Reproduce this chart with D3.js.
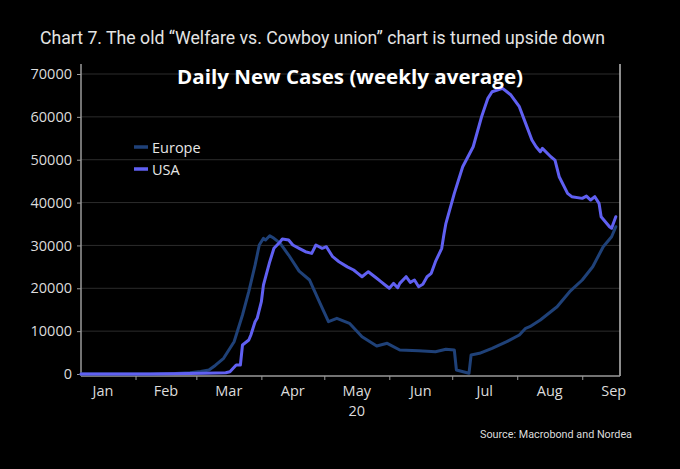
<!DOCTYPE html>
<html>
<head>
<meta charset="utf-8">
<script src="https://cdn.jsdelivr.net/npm/d3@7"></script>
<style>
  html, body { margin: 0; padding: 0; background: #000; }
  svg { display: block; }
</style>
</head>
<body>
<svg id="chart" width="680" height="469"></svg>
<script>
// ---- Data ----
const seriesNames = ["Europe", "USA"];
const monthLabels = ["Jan", "Feb", "Mar", "Apr", "May", "Jun", "Jul", "Aug", "Sep"];
const yTicks = [0, 10000, 20000, 30000, 40000, 50000, 60000, 70000];

const europeDates = ["2020-01-06","2020-02-08","2020-02-20","2020-02-27","2020-03-03","2020-03-07","2020-03-10","2020-03-14","2020-03-19","2020-03-23","2020-03-26","2020-03-29","2020-03-31","2020-04-02","2020-04-03","2020-04-05","2020-04-07","2020-04-09","2020-04-10","2020-04-14","2020-04-19","2020-04-24","2020-04-29","2020-05-03","2020-05-07","2020-05-13","2020-05-19","2020-05-26","2020-05-31","2020-06-06","2020-06-15","2020-06-23","2020-06-28","2020-07-02","2020-07-03","2020-07-09","2020-07-10","2020-07-14","2020-07-20","2020-07-27","2020-08-02","2020-08-05","2020-08-07","2020-08-12","2020-08-20","2020-08-26","2020-09-01","2020-09-06","2020-09-11","2020-09-15","2020-09-17"];
const europeValues = [0,0,100,300,600,930,2000,3660,7540,13770,19200,25400,30100,31660,31270,32270,31660,30870,30490,27760,24000,21930,16500,12200,13000,11830,8700,6530,7160,5600,5440,5200,5760,5600,930,160,4430,4830,6000,7540,9100,10660,11040,12600,15700,19200,21930,25030,29700,32030,34360];

const usaDates = ["2020-01-06","2020-02-08","2020-02-27","2020-03-05","2020-03-15","2020-03-17","2020-03-20","2020-03-22","2020-03-23","2020-03-26","2020-03-27","2020-03-29","2020-03-30","2020-04-01","2020-04-02","2020-04-05","2020-04-07","2020-04-10","2020-04-11","2020-04-14","2020-04-16","2020-04-19","2020-04-22","2020-04-25","2020-04-27","2020-04-30","2020-05-02","2020-05-05","2020-05-08","2020-05-12","2020-05-15","2020-05-17","2020-05-19","2020-05-22","2020-05-26","2020-05-28","2020-05-30","2020-06-01","2020-06-03","2020-06-05","2020-06-06","2020-06-09","2020-06-11","2020-06-13","2020-06-15","2020-06-17","2020-06-19","2020-06-21","2020-06-23","2020-06-26","2020-06-27","2020-06-28","2020-07-02","2020-07-06","2020-07-11","2020-07-15","2020-07-18","2020-07-20","2020-07-25","2020-07-29","2020-08-02","2020-08-05","2020-08-08","2020-08-10","2020-08-12","2020-08-13","2020-08-17","2020-08-19","2020-08-21","2020-08-25","2020-08-27","2020-09-01","2020-09-03","2020-09-05","2020-09-07","2020-09-09","2020-09-10","2020-09-14","2020-09-15","2020-09-17"];
const usaValues = [0,0,100,200,300,540,2100,2100,6770,7930,9100,12200,13000,16870,20770,26200,29330,30870,31500,31270,30100,29330,28540,28150,30100,29330,29700,27370,26200,25000,24270,23490,22700,23870,22330,21540,20770,20000,21150,20130,21150,22700,21390,21930,20370,20930,22700,23490,26200,29330,32430,35160,42150,48370,53030,60030,64320,65870,66650,65090,62370,58480,54590,53030,51860,52640,50690,49920,46030,42150,41370,40980,41500,40590,41370,39820,36700,34360,34000,36700];

const titleText = "Chart 7. The old \u201cWelfare vs. Cowboy union\u201d chart is turned upside down";
const innerTitle = "Daily New Cases (weekly average)";
const sourceText = "Source: Macrobond and Nordea";

// ---- Layout ----
const svg = d3.select("#chart");
const plot = { left: 81, right: 620, top: 64, bottom: 374 };
const parse = d3.timeParse("%Y-%m-%d");
const colors = { Europe: "#1f4178", USA: "#6060f2" };

const x = d3.scaleTime()
  .domain([parse("2020-01-06"), parse("2020-09-19")])
  .range([plot.left, plot.right]);
const y = d3.scaleLinear().domain([0, 70000]).range([374, 74]);

svg.append("rect").attr("width", 680).attr("height", 469).attr("fill", "#000");

// gridlines
svg.append("g").selectAll("line").data(yTicks.filter(d => d > 0)).join("line")
  .attr("x1", plot.left).attr("x2", plot.right)
  .attr("y1", d => y(d)).attr("y2", d => y(d))
  .attr("stroke", "#2c2c2c").attr("stroke-width", 1);

// y axis
const yAxis = svg.append("g").attr("transform", `translate(${plot.left},0)`)
  .call(d3.axisLeft(y).tickValues(yTicks).tickFormat(d3.format("d")).tickSize(4).tickPadding(5));
yAxis.select(".domain").attr("d", `M0,${plot.top}V${plot.bottom + 2}`).attr("stroke", "#9a9a9a").attr("stroke-width", 1.5);
yAxis.selectAll(".tick line").attr("stroke", "#9a9a9a");
yAxis.selectAll(".tick text").attr("fill", "#dcdcdc").style("font-family", "'Open Sans', 'Noto Sans', sans-serif").style("font-size", "14.5px");

// right frame line
svg.append("line").attr("x1", plot.right).attr("x2", plot.right).attr("y1", plot.top).attr("y2", plot.bottom + 2)
  .attr("stroke", "#bdbdbd").attr("stroke-width", 1.5);

// x axis: month boundary ticks, labels centred in month
const monthStarts = d3.range(1, 10).map(m => new Date(2020, m - 1, 1));
const xAxis = svg.append("g").attr("transform", `translate(0,${plot.bottom + 2})`)
  .call(d3.axisBottom(x).tickValues(monthStarts.slice(1)).tickFormat("").tickSize(4));
xAxis.select(".domain").attr("d", `M${plot.left},0H${plot.right}`).attr("stroke", "#9a9a9a").attr("stroke-width", 1.5);
xAxis.selectAll(".tick line").attr("stroke", "#9a9a9a");

const monthMid = monthLabels.map((m, i) => {
  const s = new Date(2020, i, 1), e = new Date(2020, i + 1, 1);
  return { label: m, date: new Date((+s + +e) / 2) };
});
const xScaleFull = d3.scaleTime().domain(x.domain()).range(x.range());
svg.append("g").selectAll("text").data(monthMid).join("text")
  .attr("x", d => xScaleFull(d.date)).attr("y", 396)
  .attr("text-anchor", "middle").attr("fill", "#dcdcdc")
  .style("font-family", "'Open Sans', 'Noto Sans', sans-serif").style("font-size", "14.5px")
  .text(d => d.label);
svg.append("text").attr("x", xScaleFull(monthMid[4].date)).attr("y", 416)
  .attr("text-anchor", "middle").attr("fill", "#dcdcdc")
  .style("font-family", "'Open Sans', 'Noto Sans', sans-serif").style("font-size", "14.5px")
  .text("20");

// lines
const line = d3.line().x(d => x(d.date)).y(d => y(d.value));
const series = [
  { name: "Europe", data: europeDates.map((d, i) => ({ date: parse(d), value: europeValues[i] })) },
  { name: "USA", data: usaDates.map((d, i) => ({ date: parse(d), value: usaValues[i] })) }
];
svg.append("g").selectAll("path").data(series).join("path")
  .attr("d", d => line(d.data)).attr("fill", "none")
  .attr("stroke", d => colors[d.name]).attr("stroke-width", 3)
  .attr("stroke-linejoin", "round").attr("stroke-linecap", "round");

// legend
const leg = svg.append("g").selectAll("g").data(seriesNames).join("g")
  .attr("transform", (d, i) => `translate(134,${147 + i * 22})`);
leg.append("line").attr("x1", 0).attr("x2", 14).attr("y1", 0).attr("y2", 0)
  .attr("stroke", d => colors[d]).attr("stroke-width", 3.5);
leg.append("text").attr("x", 18).attr("y", 5.5).attr("fill", "#e6e6e6")
  .style("font-family", "'Open Sans', 'Noto Sans', sans-serif").style("font-size", "14.5px")
  .text(d => d);

// titles
svg.append("text").attr("x", 40).attr("y", 44).attr("fill", "#e4e4e4")
  .style("font-family", "'Liberation Sans Narrow', 'Roboto', sans-serif").style("font-size", "19px")
  .attr("textLength", 565).attr("lengthAdjust", "spacingAndGlyphs")
  .text(titleText);
svg.append("text").attr("x", 350).attr("y", 84).attr("text-anchor", "middle").attr("fill", "#ffffff")
  .style("font-family", "'Open Sans', 'Noto Sans', sans-serif").style("font-size", "19px").style("font-weight", "700")
  .attr("textLength", 346).attr("lengthAdjust", "spacingAndGlyphs")
  .text(innerTitle);
svg.append("text").attr("x", 632).attr("y", 438).attr("text-anchor", "end").attr("fill", "#dcdcdc")
  .style("font-family", "'Liberation Sans Narrow', 'Roboto', sans-serif").style("font-size", "11px")
  .attr("textLength", 152).attr("lengthAdjust", "spacingAndGlyphs")
  .text(sourceText);
</script>
</body>
</html>
